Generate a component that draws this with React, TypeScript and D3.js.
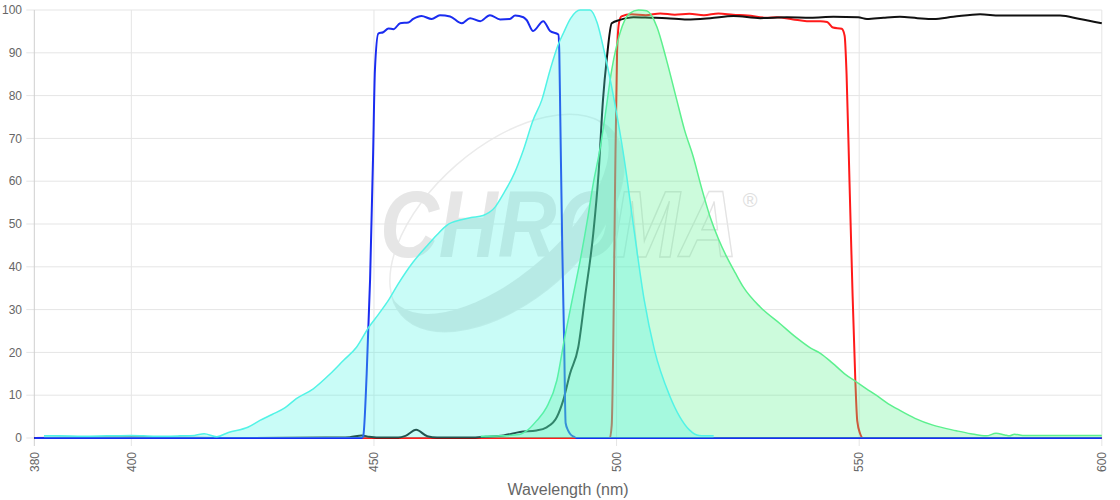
import React from 'react';
import * as d3 from 'd3';

// excitation spectrum (cyan, filled)
const exWl = [382, 385, 390, 395, 400, 405, 410, 413, 415, 417.6, 420, 424, 426.5, 429, 431.7, 434, 437.5, 441, 443.7, 446.4, 449, 451, 453, 455, 458, 461, 463, 465, 468, 470, 472.5, 475, 476.7, 479, 480.8, 482.8, 484.6, 486.3, 488, 489, 490.5, 492.5, 494.5, 496, 497.4, 499.5, 501.6, 503.6, 505.7, 507.8, 510.9, 513, 515, 517, 520];
const exVal = [0.5, 0.5, 0.4, 0.5, 0.6, 0.4, 0.5, 0.6, 1.0, 0.3, 1.3, 2.5, 4.1, 5.5, 7.1, 9.2, 11.5, 15, 18.1, 21.2, 26, 29, 32.2, 36, 41, 45, 47.5, 49.7, 51, 51.5, 52, 54, 57.1, 62, 67.3, 74.3, 79, 86, 92, 94.5, 98, 100, 100, 97, 90.6, 79, 65, 48.6, 32.2, 20.6, 10, 5, 1.9, 0.6, 0.5];

// emission spectrum (green, filled)
const emWl = [472, 476, 480, 481.5, 483.5, 485.6, 487.7, 489.2, 490.8, 492.5, 494, 495.2, 496.5, 497.6, 499, 500.7, 502.7, 504.5, 506.2, 508.3, 510.3, 512.4, 514, 515.8, 517.5, 519.3, 521, 522.7, 524.5, 526.1, 529.6, 533.7, 537, 540, 542, 544.5, 547, 549.3, 551.5, 553.5, 556, 558.3, 561.5, 565.2, 570, 573, 576.2, 578.2, 580, 581, 582, 583.7, 588, 594, 600];
const emVal = [0.4, 0.5, 0.8, 1.7, 4, 7.2, 13.5, 22.8, 32, 41.5, 51, 59.5, 67, 75, 86, 94.6, 99.2, 100, 99.8, 96.1, 88.3, 79, 72, 65.7, 58.5, 51.6, 46.5, 42.3, 38.5, 35.3, 30.6, 26.7, 23.5, 21, 19.8, 17.5, 15, 13.2, 11.5, 10, 8, 6.5, 4.6, 3, 1.7, 1, 0.5, 1.1, 0.7, 0.5, 0.9, 0.6, 0.6, 0.6, 0.6];

// excitation filter (blue)
const exfWl = [380, 447.5, 447.8, 448.5, 449.2, 449.8, 450.2, 450.9, 451.9, 453, 454, 455.4, 457.1, 458.1, 459.8, 461.9, 463.6, 465.7, 468.1, 469.8, 471.9, 473.9, 476, 478, 479.1, 480.8, 481.5, 482.8, 484.9, 486.3, 488, 488.2, 488.4, 488.8, 489.2, 489.5, 490, 490.4, 491.2, 491.8, 600];
const exfVal = [0, 0, 0.5, 15, 37, 65, 86, 94.5, 94.8, 95.7, 95.5, 96.9, 97.1, 97.9, 98.6, 97.9, 98.8, 98.5, 96.9, 98.1, 97.4, 98.8, 97.8, 97.9, 98.7, 98.3, 97.6, 95.1, 97.4, 95.1, 94.3, 90, 75, 45, 22, 3.5, 1.8, 1, 0.3, 0, 0];

// dichroic (black)
const dicWl = [380, 400, 420, 440, 445, 447.5, 449, 452, 455, 456.5, 458.7, 461, 463, 470, 473, 476.7, 480.1, 483.5, 485.6, 487.7, 489, 490.4, 492.1, 493.5, 495.2, 496.3, 497.2, 498, 499, 500.7, 502.1, 503.5, 507, 510.3, 514.5, 519.3, 524.1, 529.6, 535.1, 540, 544.7, 549.8, 551.6, 555, 558.4, 562, 565.3, 569.4, 574.9, 579, 585.9, 591.4, 595.5, 600];
const dicVal = [0, 0.1, 0, 0.1, 0.2, 0.6, 0.3, 0.1, 0.1, 0.5, 1.9, 0.4, 0.1, 0.1, 0.3, 0.6, 1.4, 1.75, 2.5, 4.9, 8.8, 15, 21.2, 33, 47.8, 62, 79, 88.8, 96.9, 97.7, 98.1, 98.3, 98.2, 98.1, 97.8, 98.1, 98.6, 98.1, 98.3, 98.2, 98.4, 98.3, 97.9, 98.2, 98.4, 98.1, 97.9, 98.4, 99, 98.7, 98.7, 98.7, 97.9, 96.9];

// emission filter (red)
const emfWl = [380, 498.6, 499, 499.3, 499.7, 500.1, 500.5, 501, 503, 506, 509, 512, 515, 518, 521, 524, 527, 530.9, 533, 536.4, 539.2, 542, 543.4, 544.6, 546.4, 547, 547.4, 548, 548.6, 549.2, 549.6, 550.2, 550.8, 600];
const emfVal = [0, 0, 3, 20, 60, 90, 97, 98.5, 99, 98.8, 99.2, 98.9, 99.1, 98.8, 99.2, 98.9, 98.7, 98.2, 98.3, 97.8, 97.4, 97.4, 97.2, 95.9, 95.6, 94, 85, 60, 35, 13.6, 4, 1, 0, 0];

const xTicks = [380, 400, 450, 500, 550, 600];
const yTicks = [0, 10, 20, 30, 40, 50, 60, 70, 80, 90, 100];

const FONT = '"Liberation Sans", Arial, Helvetica, sans-serif';

const zip = (a: number[], b: number[]): [number, number][] => a.map((v, i) => [v, b[i]]);

export default function App() {
    const width = 1120;
    const height = 500;

    const x = d3.scaleLinear().domain([380, 600]).range([34.3, 1101.8]);
    const y = d3.scaleLinear().domain([0, 100]).range([438, 10]);

    const line = d3.line<[number, number]>()
        .x(d => x(d[0]))
        .y(d => y(d[1]))
        .curve(d3.curveMonotoneX);

    const area = d3.area<[number, number]>()
        .x(d => x(d[0]))
        .y0(y(0))
        .y1(d => y(d[1]))
        .curve(d3.curveMonotoneX);

    const ex = zip(exWl, exVal);
    const em = zip(emWl, emVal);

    const [x0, x1] = x.range();
    const [yb, yt] = y.range();

    // logo ring frame
    const ring = 'translate(507,223) rotate(-41)';

    return (
        <svg width={width} height={height} style={{ position: 'absolute', left: 0, top: 0, background: '#fff' }}>
            <defs>
                <mask id="ringMask">
                    <rect x={-400} y={-400} width={800} height={800} fill="#fff" />
                    <ellipse cx={0} cy={-14} rx={136} ry={64} fill="#000" />
                </mask>
            </defs>

            {/* watermark */}
            <g>
                <g transform={ring}>
                    <ellipse cx={0} cy={0} rx={140} ry={77} fill="none" stroke="#ebebeb" strokeWidth={1.5} />
                    <ellipse cx={0} cy={0} rx={140} ry={77} fill="#e6e6e6" mask="url(#ringMask)" />
                </g>
                <text x={380} y={257} fontFamily={FONT} fontWeight={700} fontStyle="italic" fontSize={94}
                    fill="#e6e6e6" textLength={240} lengthAdjust="spacingAndGlyphs">CHRO</text>
                <text x={612} y={257} fontFamily={FONT} fontWeight={700} fontStyle="italic" fontSize={94}
                    fill="none" stroke="#e3e3e3" strokeWidth={1.5} textLength={126} lengthAdjust="spacingAndGlyphs">MA</text>
                <text x={750} y={207} fontFamily={FONT} fontSize={20} fill="#e0e0e0" textAnchor="middle">®</text>
            </g>

            {/* grid */}
            <g>
                {yTicks.map(t => (
                    <line key={'gy' + t} x1={x0 - 8} x2={x1} y1={y(t)} y2={y(t)} stroke="#e5e5e5" strokeWidth={1} />
                ))}
                {xTicks.map(t => (
                    <line key={'gx' + t} x1={x(t)} x2={x(t)} y1={yt} y2={yb + 8} stroke={t === 380 ? '#cfcfcf' : '#e5e5e5'} strokeWidth={1} />
                ))}
            </g>

            {/* filter curves */}
            <path d={line(zip(emfWl, emfVal)) || ''} fill="none" stroke="#ff1a1a" strokeWidth={2} />
            <path d={line(zip(dicWl, dicVal)) || ''} fill="none" stroke="#111" strokeWidth={2} />
            <path d={line(zip(exfWl, exfVal)) || ''} fill="none" stroke="#1a2cf0" strokeWidth={2} />

            {/* spectra */}
            <path d={area(em) || ''} fill="rgba(85,242,138,0.3)" />
            <path d={line(em) || ''} fill="none" stroke="#5cf08e" strokeWidth={1.5} />
            <path d={area(ex) || ''} fill="rgba(75,245,228,0.3)" />
            <path d={line(ex) || ''} fill="none" stroke="#52f3e6" strokeWidth={1.5} />

            {/* tick labels */}
            <g fontFamily={FONT} fontSize={12} fill="#666">
                {yTicks.map(t => (
                    <text key={'ly' + t} x={22} y={y(t)} dy="0.35em" textAnchor="end">{t}</text>
                ))}
                {xTicks.map(t => (
                    <text key={'lx' + t} transform={`translate(${x(t)},452) rotate(-90)`} dy="0.35em" textAnchor="end">{t}</text>
                ))}
            </g>

            <text x={(x0 + x1) / 2} y={495} textAnchor="middle" fontFamily={FONT} fontSize={16} fill="#666">Wavelength (nm)</text>
        </svg>
    );
}
